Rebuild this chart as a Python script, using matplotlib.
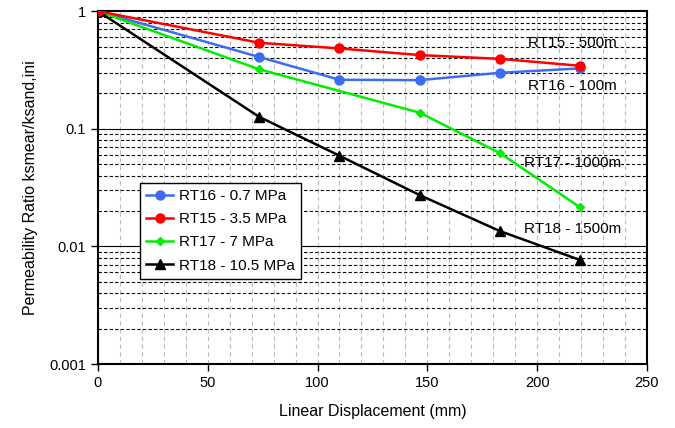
import matplotlib
matplotlib.use("Agg")
import matplotlib.pyplot as plt
from matplotlib.ticker import FixedLocator, NullLocator, NullFormatter

plt.rcParams['font.family'] = ['Liberation Sans', 'DejaVu Sans']

# Displacement (mm) and permeability ratio for each test
x_full = [0, 73.5, 110, 146.5, 183, 219.5]
x_rt17 = [0, 73.5, 146.5, 183, 219.5]

rt16 = [1.0, 0.407, 0.261, 0.259, 0.299, 0.326]
rt15 = [1.0, 0.538, 0.482, 0.423, 0.393, 0.343]
rt17 = [1.0, 0.320, 0.137, 0.0622, 0.0215]
rt18 = [1.0, 0.126, 0.059, 0.0273, 0.0135, 0.00766]

series_labels = ["RT16 - 0.7 MPa", "RT15 - 3.5 MPa", "RT17 - 7 MPa", "RT18 - 10.5 MPa"]
depth_labels = ["RT15 - 500m", "RT16 - 100m", "RT17 - 1000m", "RT18 - 1500m"]
depth_label_y = [0.535, 0.231, 0.0513, 0.0141]
depth_label_x = 216

fig = plt.figure(figsize=(6.75, 4.28), dpi=100)
ax = fig.add_axes([0.145, 0.1495, 0.8135, 0.8245])

ax.set_yscale('log')
ax.set_xlim(0, 250)
ax.set_ylim(0.001, 1)

# grid: light grey dashed verticals every 10 mm, black dashed minor horizontals, solid decades
for xv in range(10, 250, 10):
    ax.axvline(xv, color='#bbbbbb', lw=0.8, ls=(0, (4, 3)), zorder=0)
for dec in [0.001, 0.01, 0.1]:
    for m in range(2, 10):
        ax.axhline(dec * m, color='black', lw=0.8, ls=(0, (3, 2)), zorder=0.5)
for dec in [0.01, 0.1]:
    ax.axhline(dec, color='black', lw=0.8, zorder=0.5)

ax.plot(x_full, rt16, color='#3d6cf2', lw=1.8, marker='o', ms=6.5, label=series_labels[0], zorder=3)
ax.plot(x_full, rt15, color='#ff0000', lw=1.8, marker='o', ms=6.5, label=series_labels[1], zorder=4)
ax.plot(x_rt17, rt17, color='#00ee00', lw=1.8, marker='D', ms=4.5, label=series_labels[2], zorder=3)
ax.plot(x_full, rt18, color='black', lw=1.8, marker='^', ms=6.5, label=series_labels[3], zorder=3)

for lab, yv in zip(depth_labels, depth_label_y):
    ax.text(depth_label_x, yv, lab, ha='center', va='center', fontsize=11, zorder=2)

ax.xaxis.set_major_locator(FixedLocator([0, 50, 100, 150, 200, 250]))
ax.xaxis.set_minor_locator(NullLocator())
ax.yaxis.set_major_locator(FixedLocator([0.001, 0.01, 0.1, 1]))
ax.yaxis.set_minor_locator(NullLocator())
ax.yaxis.set_minor_formatter(NullFormatter())
ax.set_yticklabels(['0.001', '0.01', '0.1', '1'])
ax.tick_params(axis='both', direction='out', length=5, width=1, labelsize=10.5)

for sp in ax.spines.values():
    sp.set_linewidth(1.5)

ax.set_xlabel('Linear Displacement (mm)', fontsize=11.5, labelpad=10)
ax.set_ylabel('Permeability Ratio ksmear/ksand,ini', fontsize=11.5, labelpad=8)

leg = ax.legend(loc='upper left', bbox_to_anchor=(0.0765, 0.513), borderaxespad=0,
                fontsize=11, frameon=True, fancybox=False, edgecolor='black', framealpha=1,
                borderpad=0.4, labelspacing=0.6, handlelength=1.8, handletextpad=0.35)
leg.get_frame().set_linewidth(1)
leg.set_zorder(5)

fig.savefig('out.png', dpi=100)
